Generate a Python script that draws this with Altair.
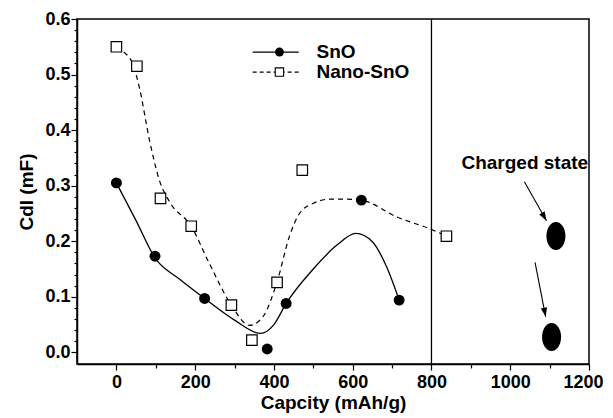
import altair as alt
import pandas as pd

# ---- data ----
sno_x = [0, 98, 224, 383, 431, 622, 718]
sno_y = [0.305, 0.173, 0.097, 0.006, 0.088, 0.274, 0.094]
nano_x = [0, 52, 112, 190, 292, 344, 408, 472, 838]
nano_y = [0.550, 0.515, 0.277, 0.227, 0.085, 0.022, 0.126, 0.328, 0.209]

sno_fit_x = [0, 50, 98, 160, 224, 300, 366, 400, 431, 500, 560, 608, 650, 686, 718]
sno_fit_y = [0.305, 0.237, 0.17, 0.132, 0.097, 0.058, 0.034, 0.05, 0.088, 0.15, 0.193, 0.214, 0.199, 0.154, 0.094]
nano_fit_x = [0, 20, 41, 58, 84, 109, 135, 190, 236, 292, 338, 372, 408, 440, 465, 499, 542, 584, 622, 711, 804, 838]
nano_fit_y = [0.55, 0.54, 0.52, 0.478, 0.382, 0.31, 0.271, 0.227, 0.16, 0.085, 0.0486, 0.064, 0.127, 0.21, 0.25, 0.268, 0.2757, 0.2757, 0.274, 0.244, 0.22, 0.209]

divider_x = [800]
state_x = [1116, 1105]
state_y = [0.2095, 0.0276]
arrow_x = [1036, 1063]
arrow_y = [0.307, 0.162]
arrow_x2 = [1092, 1090]
arrow_y2 = [0.237, 0.064]
arrow_angle = [330, 349]
note_text = ["Charged state"]
note_x = [1037]
note_y = [0.340]

legend_labels = ["SnO", "Nano-SnO"]
legend_y = [0.5405, 0.5045]
legend_x1, legend_x2, legend_xm, legend_xt = 346, 463, 414, 508

x_ticks = list(range(0, 1201, 100))
y_ticks = [round(i * 0.02, 2) for i in range(0, 31)]

FONT = "Liberation Sans"

major_y = "abs(datum.value*10 - round(datum.value*10)) < 0.001"
major_x = "datum.value % 200 == 0"

xscale = alt.Scale(domain=[-100, 1200], nice=False, zero=False)
yscale = alt.Scale(domain=[-0.021, 0.6], nice=False, zero=False)

xaxis = alt.Axis(
    values=x_ticks, title="Capcity (mAh/g)", grid=False,
    labelExpr=f"{major_x} ? format(datum.value, 'd') : ''",
    tickSize={"condition": {"test": major_x, "value": 6}, "value": 4},
    labelFont=FONT, labelFontSize=18, labelFontWeight="bold", labelColor="black",
    titleFont=FONT, titleFontSize=19, titleFontWeight="bold", titleColor="black",
    titlePadding=2, labelPadding=3, domainColor="black", domainWidth=1.5,
    tickColor="black", tickWidth=1.2, labelFlush=1, labelFlushOffset=14,
    labelOverlap=False,
)
yaxis = alt.Axis(
    values=y_ticks, title="Cdl (mF)", grid=False,
    labelExpr=f"{major_y} ? format(datum.value, '.1f') : ''",
    tickSize={"condition": {"test": major_y, "value": 6}, "value": 3},
    labelFont=FONT, labelFontSize=18, labelFontWeight="bold", labelColor="black",
    titleFont=FONT, titleFontSize=19, titleFontWeight="bold", titleColor="black",
    titlePadding=8, labelPadding=1, domainColor="black", domainWidth=1.5,
    tickColor="black", tickWidth=1.2, labelFlush=False, labelOverlap=False,
)


def X(f):
    return alt.X(f, type="quantitative", scale=xscale, axis=xaxis)


def Y(f):
    return alt.Y(f, type="quantitative", scale=yscale, axis=yaxis)


sno_fit = pd.DataFrame({"x": sno_fit_x, "y": sno_fit_y})
nano_fit = pd.DataFrame({"x": nano_fit_x, "y": nano_fit_y})
sno = pd.DataFrame({"x": sno_x, "y": sno_y})
nano = pd.DataFrame({"x": nano_x, "y": nano_y})

l_sno = alt.Chart(sno_fit).mark_line(color="black", strokeWidth=1.3, interpolate="monotone").encode(x=X("x"), y=Y("y"))
l_nano = alt.Chart(nano_fit).mark_line(color="black", strokeWidth=1.2, strokeDash=[5, 4], interpolate="monotone").encode(x=X("x"), y=Y("y"))
p_nano = alt.Chart(nano).mark_point(shape="square", filled=True, fill="white", stroke="black", strokeWidth=1.2, size=110, opacity=1).encode(x=X("x"), y=Y("y"))
p_sno = alt.Chart(sno).mark_point(shape="circle", filled=True, color="black", size=120, opacity=1).encode(x=X("x"), y=Y("y"))

divider = alt.Chart(pd.DataFrame({"x": divider_x})).mark_rule(color="black", strokeWidth=1.3).encode(x=X("x"))

ell = alt.Chart(pd.DataFrame({"x": state_x, "y": state_y})).mark_point(
    shape="M-0.68,0 A0.68,1 0 1,0 0.68,0 A0.68,1 0 1,0 -0.68,0 Z",
    filled=True, color="black", size=784, opacity=1,
).encode(x=X("x"), y=Y("y"))

arr_df = pd.DataFrame({"x": arrow_x, "y": arrow_y, "x2": arrow_x2, "y2": arrow_y2, "a": arrow_angle})
arr = alt.Chart(arr_df).mark_rule(color="black", strokeWidth=1.1).encode(x=X("x"), y=Y("y"), x2="x2", y2="y2")
heads = alt.Chart(arr_df).mark_point(
    shape="M0,0 L-0.35,-1 L0.35,-1 Z", filled=True, color="black", size=324, opacity=1,
).encode(x=X("x2"), y=Y("y2"), angle=alt.Angle("a:Q", scale=None))

note = alt.Chart(pd.DataFrame({"x": note_x, "y": note_y, "t": note_text})).mark_text(
    font=FONT, fontSize=19, fontWeight="bold", color="black", align="center", baseline="middle",
).encode(x=X("x"), y=Y("y"), text="t:N")

leg_df = pd.DataFrame({"x1": [legend_x1] * 2, "x2": [legend_x2] * 2, "xm": [legend_xm] * 2,
                       "xt": [legend_xt] * 2, "y": legend_y, "t": legend_labels})
leg_line1 = alt.Chart(leg_df.iloc[[0]]).mark_rule(color="black", strokeWidth=1.3).encode(x=X("x1"), x2="x2", y=Y("y"))
leg_line2 = alt.Chart(leg_df.iloc[[1]]).mark_rule(color="black", strokeWidth=1.2, strokeDash=[4, 3]).encode(x=X("x1"), x2="x2", y=Y("y"))
leg_m1 = alt.Chart(leg_df.iloc[[0]]).mark_point(shape="circle", filled=True, color="black", size=80, opacity=1).encode(x=X("xm"), y=Y("y"))
leg_m2 = alt.Chart(leg_df.iloc[[1]]).mark_point(shape="square", filled=True, fill="white", stroke="black", strokeWidth=1.1, size=70, opacity=1).encode(x=X("xm"), y=Y("y"))
leg_t = alt.Chart(leg_df).mark_text(
    font=FONT, fontSize=19, fontWeight="bold", color="black", align="left", baseline="middle",
).encode(x=X("xt"), y=Y("y"), text="t:N")

chart = alt.layer(
    divider, l_sno, l_nano, p_nano, p_sno, ell, arr, heads, note,
    leg_line1, leg_line2, leg_m1, leg_m2, leg_t,
).properties(
    width=512, height=345,
    autosize=alt.AutoSizeParams(type="none"),
    padding={"left": 69, "top": 11, "right": 16, "bottom": 52},
    background="white",
).configure_view(stroke="black", strokeWidth=1.5)

chart.save("out.html", embed_options={"renderer": "svg", "actions": False})
